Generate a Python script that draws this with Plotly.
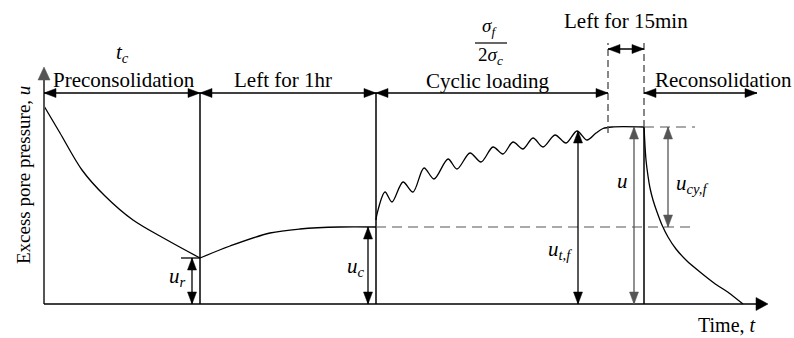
import plotly.graph_objects as go

# ---- schematic levels and stage boundaries (time / pressure units) ----
t_pre_end = 156      # end of preconsolidation
t_rest_end = 332     # end of 1 hr rest
t_cyc_end = 564      # end of cyclic loading
t_hold_end = 600     # end of 15 min hold
t_axis_end = 724
u_axis_top = 237
u_row = 211          # height of the stage arrows
u_hold_row = 255     # height of the 15 min arrow
u_guide_top = 261
t_guide_end = 651

u_r = 46
u_c = 77
u_tf = 173
u_f = 177

t_arrow_ur = 148
t_arrow_uc = 324
t_arrow_utf = 534
t_arrow_u = 590
t_arrow_ucy = 624
t_recon_arrow_end = 713

# ---- pore pressure curve, stage by stage ----
t_pre = [0, 16, 38, 61, 89, 123, 156]
u_pre = [198, 171, 134, 108, 84, 64, 46]

t_rest = [156, 186, 226, 256, 296, 332]
u_rest = [46, 58, 71, 75, 77, 77]

t_cyc = [332, 333, 341, 348, 359, 369, 380, 390, 404, 413, 426, 437, 449, 459,
         469, 479, 489, 499, 511, 522, 533, 543, 552, 559, 568, 600]
u_cyc = [84, 90, 112, 102, 122, 112, 136, 125, 145, 135, 151, 142, 157, 150,
         162, 155, 166, 157, 169, 161, 173, 164, 171, 175.5, 177, 177]

t_recon = [600, 601, 602, 604, 606, 609, 613, 618, 624, 632, 643, 656, 670, 685, 699]
u_recon = [177, 158, 144, 128, 116, 104, 92, 79, 67, 55, 43, 32, 21, 11, 0]

FONT = "Liberation Serif"
BLACK = "#000000"
GREY = "#555555"

fig = go.Figure()
shapes = []
annotations = []


def seg(x0, y0, x1, y1, color=BLACK, width=1.3, dash=None):
    ln = dict(color=color, width=width)
    if dash:
        ln["dash"] = dash
    shapes.append(dict(type="line", xref="x", yref="y", x0=x0, y0=y0,
                       x1=x1, y1=y1, line=ln, layer="above"))


def head(tx, ty, dx, dy, color=BLACK, length=12, half=4.5):
    # filled triangle with its tip at (tx, ty) pointing along (dx, dy)
    bx, by = tx - dx * length, ty - dy * length
    px, py = -dy * half, dx * half
    path = (f"M {tx},{ty} L {bx + px},{by + py} "
            f"L {bx - px},{by - py} Z")
    shapes.append(dict(type="path", xref="x", yref="y", path=path,
                       fillcolor=color, line=dict(color=color, width=0.5),
                       layer="above"))


def arrow(x0, y0, x1, y1, color=BLACK, width=1.3, both=True,
          length=12, half=4.5):
    seg(x0, y0, x1, y1, color, width)
    d = ((x1 - x0) ** 2 + (y1 - y0) ** 2) ** 0.5
    dx, dy = (x1 - x0) / d, (y1 - y0) / d
    head(x1, y1, dx, dy, color, length, half)
    if both:
        head(x0, y0, -dx, -dy, color, length, half)


def label(x, y, text, size=21, angle=0):
    annotations.append(dict(x=x, y=y, xref="x", yref="y", text=text,
                            showarrow=False, textangle=angle,
                            font=dict(family=FONT, size=size, color=BLACK),
                            xanchor="center", yanchor="middle"))


# ---- axes ----
seg(0, 0, 0, u_axis_top - 10, GREY, 2)
head(0, u_axis_top, 0, 1, GREY, 13, 6)
seg(0, 0, t_axis_end - 8, 0, BLACK, 1.6)
head(t_axis_end, 0, 1, 0, BLACK, 12, 6.5)

# ---- stage boundaries ----
seg(t_pre_end, 0, t_pre_end, u_row, BLACK, 1.5)
seg(t_rest_end, 0, t_rest_end, u_row, BLACK, 1.5)
seg(t_cyc_end, u_f - 6, t_cyc_end, u_guide_top, GREY, 1.4, "7px,4px")
seg(t_hold_end, u_f, t_hold_end, u_guide_top, GREY, 1.4, "7px,4px")
seg(t_hold_end, 0, t_hold_end, u_f, BLACK, 1.5)

# ---- guide lines ----
seg(t_rest_end, u_c, t_guide_end, u_c, GREY, 1.2, "10px,6px")
seg(t_hold_end, u_f, t_guide_end, u_f, GREY, 1.2, "10px,6px")
seg(t_arrow_ur - 11, u_r, t_pre_end, u_r, BLACK, 1.3)

# ---- stage arrows ----
arrow(0, u_row, t_pre_end, u_row)
arrow(t_pre_end, u_row, t_rest_end, u_row)
arrow(t_rest_end, u_row, t_cyc_end, u_row)
arrow(t_cyc_end, u_hold_row, t_hold_end, u_hold_row)
arrow(t_hold_end, u_row, t_recon_arrow_end, u_row)

# ---- pressure arrows ----
arrow(t_arrow_ur, 0, t_arrow_ur, u_r)
arrow(t_arrow_uc, 0, t_arrow_uc, u_c)
arrow(t_arrow_utf, 0, t_arrow_utf, u_tf)
arrow(t_arrow_u, 0, t_arrow_u, u_f, GREY)
arrow(t_arrow_ucy, u_c, t_arrow_ucy, u_f, GREY)

# ---- pore pressure response ----
for tt, uu, sm in [(t_pre, u_pre, 0.9), (t_rest, u_rest, 0.9),
                   (t_cyc, u_cyc, 0.9), (t_recon, u_recon, 0.5)]:
    fig.add_trace(go.Scatter(x=tt, y=uu, mode="lines",
                             line=dict(color=BLACK, width=1.3,
                                       shape="spline", smoothing=sm),
                             hoverinfo="skip"))

# ---- text ----
label(78, 251, "<i>t</i><sub><i>c</i></sub>")
label(80, 224, "Preconsolidation")
label(239, 224, "Left for 1hr")
label(444, 223, "Cyclic loading")
label(581.5, 283, "Left for 15min")
label(679.5, 224, "Reconsolidation")
label(445, 277, "<i>σ</i><sub><i>f</i></sub>", 19)
seg(431, 261, 463, 261, BLACK, 1.2)
label(446, 248, "2<i>σ</i><sub><i>c</i></sub>", 19)

label(133, 27, "<i>u</i><sub><i>r</i></sub>")
label(312, 37, "<i>u</i><sub><i>c</i></sub>")
label(516, 54, "<i>u</i><sub><i>t,f</i></sub>")
label(578, 123, "<i>u</i>")
label(648, 120, "<i>u</i><sub><i>cy,f</i></sub>")

label(683, -21, "Time, <i>t</i>", 20)
label(-21, 129, "Excess pore pressure, <i>u</i>", 19, -90)

fig.update_layout(
    width=794, height=338,
    margin=dict(l=0, r=0, t=0, b=0),
    paper_bgcolor="white", plot_bgcolor="white",
    showlegend=False,
    font=dict(family=FONT),
    xaxis=dict(range=[-44, 750], visible=False, fixedrange=True),
    yaxis=dict(range=[-34, 304], visible=False, fixedrange=True),
    shapes=shapes, annotations=annotations,
)

fig.write_html("out.html")
